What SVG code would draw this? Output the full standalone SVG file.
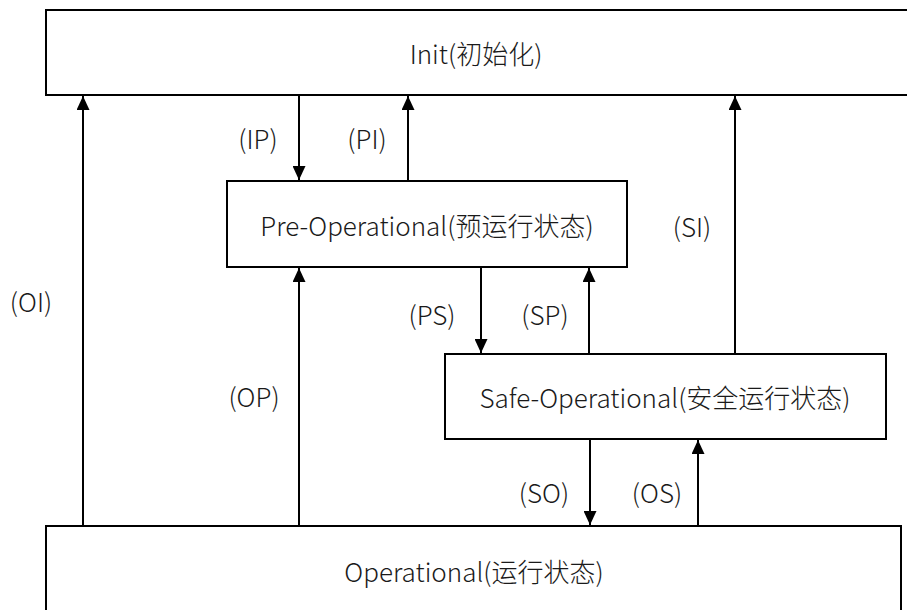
<svg xmlns="http://www.w3.org/2000/svg" width="907" height="610" viewBox="0 0 907 610">
<defs>
<marker id="ah" markerWidth="14" markerHeight="13" refX="14" refY="6.5" orient="auto" markerUnits="userSpaceOnUse" viewBox="0 0 14 13">
<path d="M0,0 L14,6.5 L0,13 Z" fill="#000"/>
</marker>
<style>
.box{fill:#fff;stroke:#000;stroke-width:2}
.t{font-family:"Noto Sans CJK SC","Noto Sans",sans-serif;font-size:26px;font-weight:300;fill:#1a1a1a;text-anchor:middle;dominant-baseline:central}
.c{stroke:#000;stroke-width:2;fill:none;marker-end:url(#ah)}
</style>
</defs>
<rect width="907" height="610" fill="#fff"/>
<g id="init"><rect class="box" x="46" y="10" width="870" height="85"/><text class="t" x="476" y="52">Init(初始化)</text></g>
<g id="preop"><rect class="box" x="227" y="181" width="400" height="86"/><text class="t" x="427" y="224">Pre-Operational(预运行状态)</text></g>
<g id="safeop"><rect class="box" x="445" y="354" width="441" height="85"/><text class="t" x="665" y="396">Safe-Operational(安全运行状态)</text></g>
<g id="op"><rect class="box" x="46" y="526" width="855" height="100"/><text class="t" x="474" y="570">Operational(运行状态)</text></g>
<g id="connectors">
<line class="c" x1="83" y1="526" x2="83" y2="96"/>
<line class="c" x1="299" y1="95" x2="299" y2="180"/>
<line class="c" x1="408" y1="181" x2="408" y2="96"/>
<line class="c" x1="299" y1="526" x2="299" y2="268"/>
<line class="c" x1="481" y1="267" x2="481" y2="353"/>
<line class="c" x1="589" y1="354" x2="589" y2="268"/>
<line class="c" x1="735" y1="354" x2="735" y2="96"/>
<line class="c" x1="590" y1="439" x2="590" y2="525"/>
<line class="c" x1="698" y1="526" x2="698" y2="440"/>
<text class="t" x="258" y="137">(IP)</text>
<text class="t" x="367" y="137">(PI)</text>
<text class="t" x="31" y="300">(OI)</text>
<text class="t" x="692" y="225">(SI)</text>
<text class="t" x="432" y="313">(PS)</text>
<text class="t" x="545" y="313">(SP)</text>
<text class="t" x="254" y="395">(OP)</text>
<text class="t" x="544" y="491">(SO)</text>
<text class="t" x="657" y="491">(OS)</text>
</g>
</svg>
